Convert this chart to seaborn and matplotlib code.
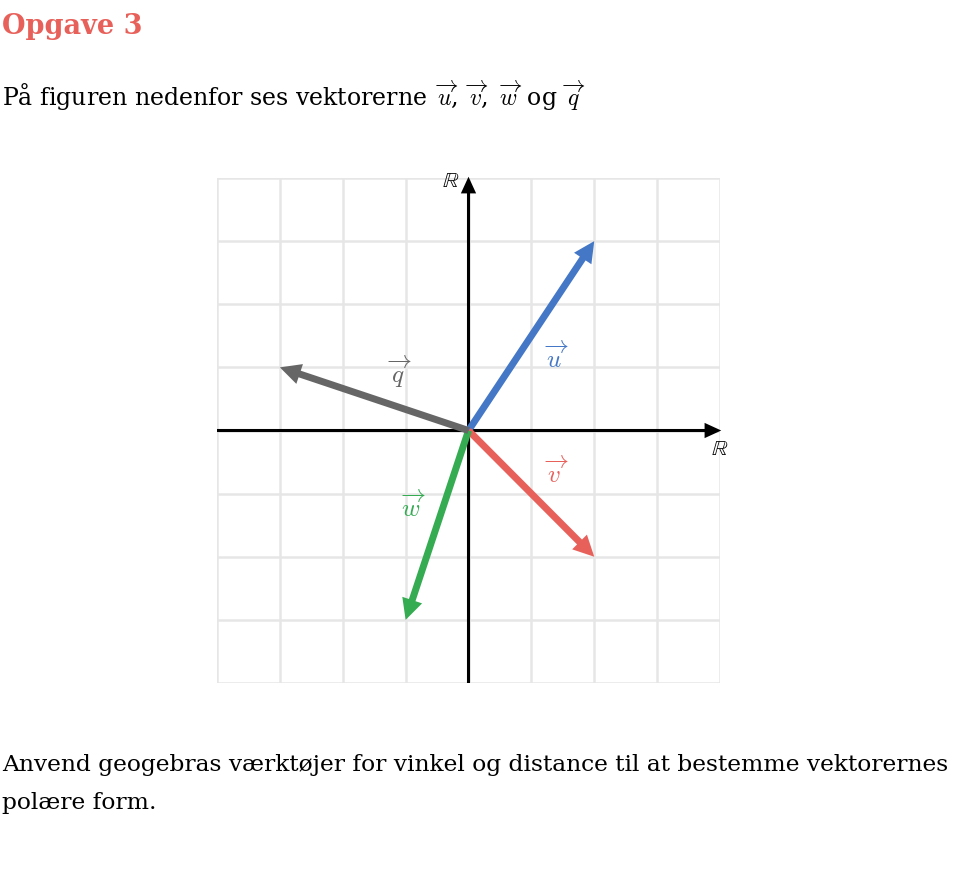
import matplotlib
matplotlib.use("Agg")
import matplotlib.pyplot as plt
import seaborn as sns
import pandas as pd

# vectors
names = ['u', 'v', 'w', 'q']
vx = [2, 2, -1, -3]
vy = [3, -2, -3, 1]
colors = ['#4477c6', '#e8605a', '#35ab52', '#666666']
# where the labels sit (data units)
lab_x = [1.4, 1.4, -0.87, -1.1]
lab_y = [1.15, -0.67, -1.2, 0.92]

ticks = [-4, -3, -2, -1, 0, 1, 2, 3, 4]

sns.set_theme(style='white')
plt.rcParams['font.family'] = ['DejaVu Serif', 'DejaVu Sans']
plt.rcParams['mathtext.fontset'] = 'cm'
plt.rcParams['text.color'] = 'black'

fig = plt.figure(figsize=(9.55, 8.73), dpi=100)
ax = fig.add_axes([217 / 955, 1 - 683 / 873, 503 / 955, 505 / 873])
ax.set_xlim(-4, 4)
ax.set_ylim(-4, 4)
ax.set_xticks(ticks)
ax.set_yticks(ticks)
ax.set_xticklabels([])
ax.set_yticklabels([])
ax.tick_params(length=0)
ax.grid(True, color='#e6e6e6', lw=1.8)
for s in ax.spines.values():
    s.set_visible(False)
ax.set_axisbelow(True)

# coordinate axes
axis_style = 'simple,head_length=0.6,head_width=0.55,tail_width=0.11'
ax.annotate('', xy=(4.02, 0), xytext=(-4, 0),
            arrowprops=dict(arrowstyle=axis_style, color='black', lw=0,
                            mutation_scale=20, shrinkA=0, shrinkB=0),
            annotation_clip=False)
ax.annotate('', xy=(0, 4.02), xytext=(0, -4),
            arrowprops=dict(arrowstyle=axis_style, color='black', lw=0,
                            mutation_scale=20, shrinkA=0, shrinkB=0),
            annotation_clip=False)
ax.text(-0.28, 3.95, r'$\mathbb{R}$', fontsize=16, ha='center', va='center', color='black')
ax.text(4.0, -0.29, r'$\mathbb{R}$', fontsize=16, ha='center', va='center', color='black')

df = pd.DataFrame({'name': names, 'x': vx, 'y': vy})
vec_style = 'simple,head_length=0.75,head_width=0.75,tail_width=0.25'
for i, row in df.iterrows():
    ax.annotate('', xy=(row['x'], row['y']), xytext=(0, 0),
                arrowprops=dict(arrowstyle=vec_style, color=colors[i], lw=0,
                                mutation_scale=20, shrinkA=0, shrinkB=0))
    ax.text(lab_x[i], lab_y[i], r'$\overrightarrow{%s}$' % row['name'], color=colors[i],
            fontsize=18, ha='center', va='center')

fig.text(2 / 955, 1 - 34 / 873, 'Opgave 3', color='#e8605a', fontsize=19.5,
         fontweight='bold', ha='left', va='baseline')
fig.text(2 / 955, 1 - 106 / 873,
         r'På figuren nedenfor ses vektorerne $\,\overrightarrow{u}$, $\,\overrightarrow{v}$, '
         r'$\,\overrightarrow{w}\,$ og $\,\overrightarrow{q}$',
         fontsize=17, ha='left', va='baseline')
fig.text(2 / 955, 1 - 771 / 873,
         'Anvend geogebras værktøjer for vinkel og distance til at bestemme vektorernes',
         fontsize=16.8, ha='left', va='baseline')
fig.text(2 / 955, 1 - 809 / 873, 'polære form.', fontsize=16.8,
         ha='left', va='baseline')

fig.savefig('out.png', dpi=100)
